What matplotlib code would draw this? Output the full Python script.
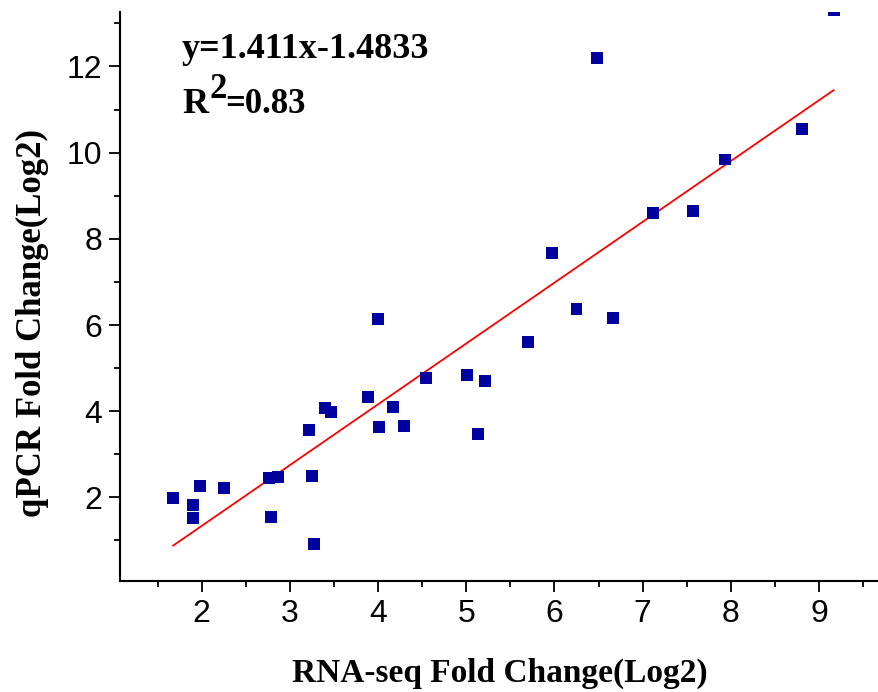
import numpy as np
import matplotlib
matplotlib.use("Agg")
import matplotlib.pyplot as plt
from matplotlib.ticker import MultipleLocator

# Data (log2 fold changes)
rnaseq = [1.675, 1.90, 1.90, 1.98, 2.25, 2.766, 2.869, 2.786, 3.22, 3.254, 3.273,
          3.398, 3.466, 3.882, 4.00, 4.007, 4.165, 4.297, 4.54, 5.008, 5.129,
          5.215, 5.703, 5.975, 6.25, 6.663, 6.485, 7.12, 7.574, 7.933, 8.81, 9.165]
qpcr = [1.98, 1.82, 1.52, 2.26, 2.22, 2.455, 2.48, 1.55, 3.56, 2.49, 0.91,
        4.08, 3.98, 4.33, 6.14, 3.64, 4.10, 3.65, 4.76, 4.85, 3.48,
        4.70, 5.60, 7.675, 6.37, 6.17, 12.2, 8.61, 8.64, 9.84, 10.54, 13.3]
slope = 1.411
intercept = -1.4833
eq_text = "y=1.411x-1.4833"
r2_base, r2_sup, r2_rest = "R", "2", "=0.83"
xlabel = "RNA-seq Fold Change(Log2)"
ylabel = "qPCR Fold Change(Log2)"

serif = ["Liberation Serif", "DejaVu Serif"]

fig = plt.figure(figsize=(8.79, 6.92), dpi=100)
ax = fig.add_axes([120.5 / 879, 1 - 581 / 692, 1 - 120.5 / 879, (581 - 11.7) / 692])

ax.scatter(rnaseq, qpcr, marker="s", s=8.6 ** 2, color="#00009E", edgecolors="none",
           zorder=3, clip_on=True)
xs = np.array([min(rnaseq), max(rnaseq)])
ax.plot(xs, slope * xs + intercept, color="#FF0000", lw=1.3, zorder=2)

ax.set_xlim(1.079, 9.68)
ax.set_ylim(0.06, 13.27)
ax.xaxis.set_minor_locator(MultipleLocator(0.5))
ax.yaxis.set_minor_locator(MultipleLocator(1))
ax.set_xticks([2, 3, 4, 5, 6, 7, 8, 9])
ax.set_yticks([2, 4, 6, 8, 10, 12])

for s in ["top", "right"]:
    ax.spines[s].set_visible(False)
for s in ["left", "bottom"]:
    ax.spines[s].set_linewidth(1.5)

ax.tick_params(axis="both", which="major", direction="out", length=8, width=1.3,
               labelsize=23, pad=5)
ax.tick_params(axis="both", which="minor", direction="out", length=4.5, width=1.3)
for lab in ax.get_xticklabels() + ax.get_yticklabels():
    lab.set_family(["Liberation Sans", "DejaVu Sans"])

ax.set_xlabel(xlabel, family=serif, fontweight="bold", fontsize=24, labelpad=21)
ax.set_ylabel(ylabel, family=serif, fontweight="bold", fontsize=25)
ax.yaxis.set_label_coords(-0.094, 0.453)

fig.text(182 / 879, 1 - 58 / 692, eq_text, family=serif,
         fontweight="bold", fontsize=26, ha="left", va="baseline")
tR = fig.text(182 / 879, 1 - 113 / 692, r2_base, family=serif,
              fontweight="bold", fontsize=26, ha="left", va="baseline")
t2 = ax.annotate(r2_sup, xy=(1, 0), xycoords=tR, xytext=(1, 15),
                 textcoords="offset pixels", family=serif, fontweight="bold",
                 fontsize=25, ha="left", va="bottom")
ax.annotate(r2_rest, xy=(1, 0), xycoords=t2, xytext=(-1, -15),
            textcoords="offset pixels", family=serif, fontweight="bold",
            fontsize=25, ha="left", va="bottom")

fig.savefig("out.png", dpi=100)
